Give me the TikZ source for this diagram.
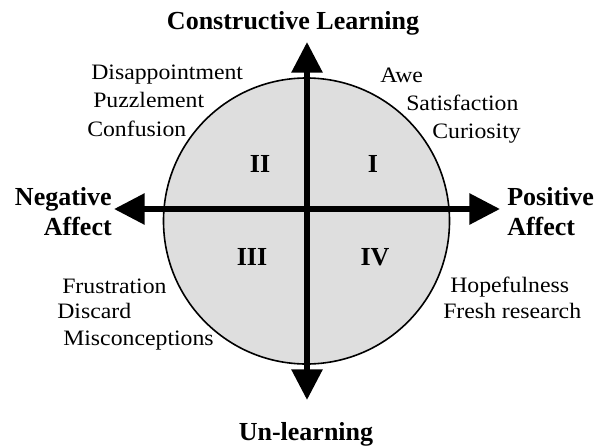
\documentclass[tikz,border=0pt]{standalone}
\usepackage{fontspec}
\setmainfont{Liberation Serif}
\newfontfamily\wordfont{Liberation Serif}[FakeStretch=1.08]
\usetikzlibrary{arrows.meta}

\tikzset{
  axis/.style={line width=4.5pt,
    {Triangle[length=23pt,width=22.5pt]}-{Triangle[length=23pt,width=22.5pt]}},
  head/.style={font=\fontsize{19.5}{22.5}\selectfont\bfseries, inner sep=0pt},
  word/.style={font=\wordfont\fontsize{16.5}{19}\selectfont, inner sep=0pt, anchor=base west},
}

\begin{document}
\begin{tikzpicture}[x=0.75pt,y=-0.75pt]
\useasboundingbox (0,0) rectangle (598,446);

\draw[line width=1.2pt, fill=black!13] (306.5,221) circle (143);

\coordinate (west) at (114,209);
\coordinate (east) at (500,209);
\coordinate (north) at (307,42);
\coordinate (south) at (307,400);
\draw[axis] (west) -- (east);
\draw[axis] (north) -- (south);

% axis labels
\node[head, anchor=base] (learn) at (293,29) {Constructive Learning};
\node[head, anchor=base] (unlearn) at (306,440) {Un-learning};
\node[head, align=right, anchor=north east] (neg) at (112,187) {Negative\\Affect};
\node[head, align=left, anchor=north west] (pos) at (507,187) {Positive\\Affect};

% quadrants
\node[head, anchor=base] (q1) at (373,172) {I};
\node[head, anchor=base] (q2) at (260,172) {II};
\node[head, anchor=base] (q3) at (252,265) {III};
\node[head, anchor=base] (q4) at (375,265) {IV};

\foreach \t/\x/\y [count=\i] in {Disappointment/91/79, Puzzlement/93/107, Confusion/87/136,
    Awe/380/82, Satisfaction/406/110, Curiosity/432/138,
    Frustration/62/293, Discard/57/318, Misconceptions/63/345,
    Hopefulness/450/292, Fresh research/443/318} {
\node[word] (w\i) at (\x,\y) {\t};
}
\end{tikzpicture}
\end{document}
